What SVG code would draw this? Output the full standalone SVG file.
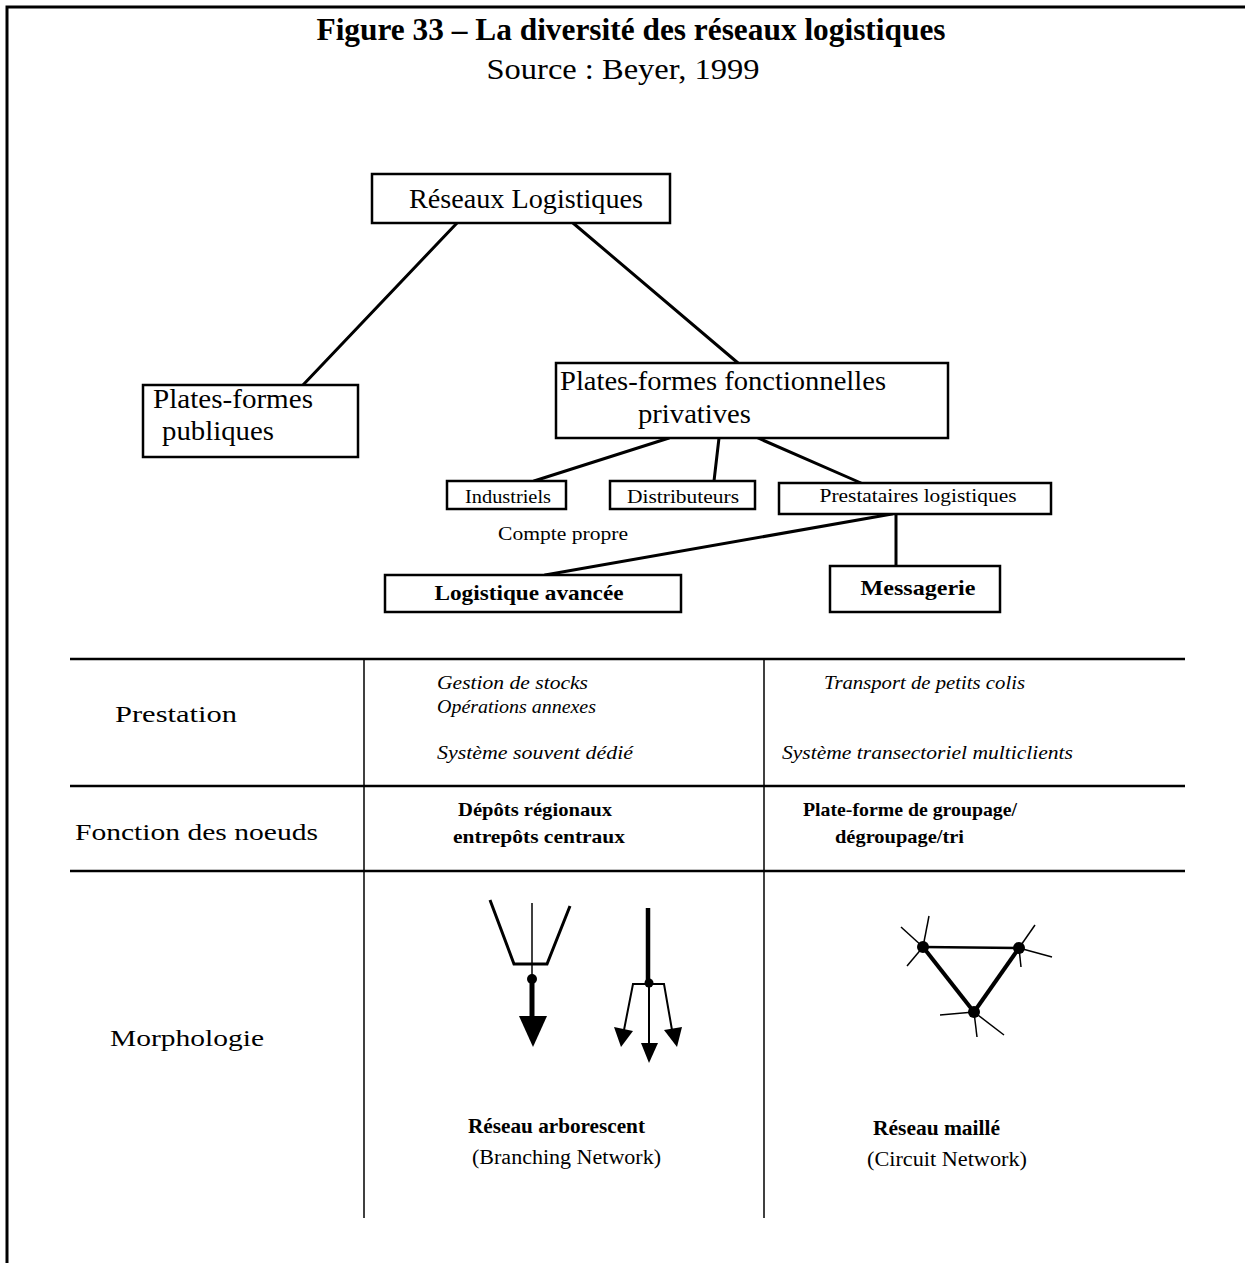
<svg xmlns="http://www.w3.org/2000/svg" width="1245" height="1263" viewBox="0 0 1245 1263">
<style>
.t{font-family:"Liberation Serif","Times New Roman",serif;fill:#000}
.box{fill:#fff;stroke:#000;stroke-width:2.5}
.con{stroke:#000;stroke-width:3;fill:none;stroke-linecap:round}
.grid{stroke:#000;stroke-width:2.5;fill:none}
.vgrid{stroke:#000;stroke-width:1.5;fill:none}
.it{font-style:italic;font-size:18px}
.bd{font-weight:bold;font-size:19px}
</style>
<rect width="1245" height="1263" fill="#fff"/>
<path d="M7,1263 V7 H1245" fill="none" stroke="#000" stroke-width="3"/>
<text class="t" x="631" y="40" text-anchor="middle" font-size="31" font-weight="bold" textLength="629" lengthAdjust="spacingAndGlyphs">Figure 33 – La diversité des réseaux logistiques</text>
<text class="t" x="623" y="79" text-anchor="middle" font-size="30" textLength="273" lengthAdjust="spacingAndGlyphs">Source : Beyer, 1999</text>

<g id="connectors">
<line class="con" x1="457" y1="223" x2="303" y2="385"/>
<line class="con" x1="573" y1="223" x2="738" y2="363"/>
<line class="con" x1="669" y1="438" x2="534" y2="481"/>
<line class="con" x1="719" y1="438" x2="714" y2="481"/>
<line class="con" x1="758" y1="438" x2="861" y2="483"/>
<line class="con" x1="892" y1="514" x2="545" y2="575"/>
<line class="con" x1="896" y1="514" x2="896" y2="566"/>
</g>

<g id="n-reseaux">
<rect class="box" x="372" y="174" width="298" height="49"/>
<text class="t" x="526" y="208" text-anchor="middle" font-size="27" textLength="234" lengthAdjust="spacingAndGlyphs">Réseaux Logistiques</text>
</g>
<g id="n-publiques">
<rect class="box" x="143" y="385" width="215" height="72"/>
<text class="t" x="153" y="408" font-size="27" textLength="160" lengthAdjust="spacingAndGlyphs">Plates-formes</text>
<text class="t" x="162" y="440" font-size="27" textLength="112" lengthAdjust="spacingAndGlyphs">publiques</text>
</g>
<g id="n-privatives">
<rect class="box" x="556" y="363" width="392" height="75"/>
<text class="t" x="560" y="390" font-size="27" textLength="326" lengthAdjust="spacingAndGlyphs">Plates-formes fonctionnelles</text>
<text class="t" x="638" y="423" font-size="27" textLength="113" lengthAdjust="spacingAndGlyphs">privatives</text>
</g>
<g id="n-industriels">
<rect class="box" x="447" y="481" width="119" height="28"/>
<text class="t" x="508" y="503" text-anchor="middle" font-size="18" textLength="86" lengthAdjust="spacingAndGlyphs">Industriels</text>
</g>
<g id="n-distributeurs">
<rect class="box" x="610" y="481" width="145" height="28"/>
<text class="t" x="683" y="503" text-anchor="middle" font-size="18" textLength="112" lengthAdjust="spacingAndGlyphs">Distributeurs</text>
</g>
<g id="n-prestataires">
<rect class="box" x="779" y="483" width="272" height="31"/>
<text class="t" x="918" y="502" text-anchor="middle" font-size="18" textLength="197" lengthAdjust="spacingAndGlyphs">Prestataires logistiques</text>
</g>
<text class="t" x="563" y="540" text-anchor="middle" font-size="18" textLength="130" lengthAdjust="spacingAndGlyphs">Compte propre</text>
<g id="n-logistique">
<rect class="box" x="385" y="575" width="296" height="37"/>
<text class="t" x="529" y="600" text-anchor="middle" font-size="21" font-weight="bold" textLength="189" lengthAdjust="spacingAndGlyphs">Logistique avancée</text>
</g>
<g id="n-messagerie">
<rect class="box" x="830" y="566" width="170" height="46"/>
<text class="t" x="918" y="595" text-anchor="middle" font-size="21" font-weight="bold" textLength="115" lengthAdjust="spacingAndGlyphs">Messagerie</text>
</g>

<g id="table">
<line class="grid" x1="70" y1="659" x2="1185" y2="659"/>
<line class="grid" x1="70" y1="786" x2="1185" y2="786"/>
<line class="grid" x1="70" y1="871" x2="1185" y2="871"/>
<line class="vgrid" x1="364" y1="659" x2="364" y2="1218"/>
<line class="vgrid" x1="764" y1="659" x2="764" y2="1218"/>
<text class="t" x="115" y="722" font-size="24" textLength="122" lengthAdjust="spacingAndGlyphs">Prestation</text>
<text class="t" x="75" y="840" font-size="24" textLength="243" lengthAdjust="spacingAndGlyphs">Fonction des noeuds</text>
<text class="t" x="110" y="1046" font-size="24" textLength="154" lengthAdjust="spacingAndGlyphs">Morphologie</text>
<text class="t it" x="437" y="689" textLength="151" lengthAdjust="spacingAndGlyphs">Gestion de stocks</text>
<text class="t it" x="437" y="713" textLength="159" lengthAdjust="spacingAndGlyphs">Opérations annexes</text>
<text class="t it" x="437" y="759" textLength="196" lengthAdjust="spacingAndGlyphs">Système souvent dédié</text>
<text class="t it" x="824" y="689" textLength="201" lengthAdjust="spacingAndGlyphs">Transport de petits colis</text>
<text class="t it" x="782" y="759" textLength="291" lengthAdjust="spacingAndGlyphs">Système transectoriel multiclients</text>
<text class="t bd" x="458" y="816" textLength="154" lengthAdjust="spacingAndGlyphs">Dépôts régionaux</text>
<text class="t bd" x="453" y="843" textLength="172" lengthAdjust="spacingAndGlyphs">entrepôts centraux</text>
<text class="t bd" x="803" y="816" textLength="214" lengthAdjust="spacingAndGlyphs">Plate-forme de groupage/</text>
<text class="t bd" x="835" y="843" textLength="129" lengthAdjust="spacingAndGlyphs">dégroupage/tri</text>
<text class="t" x="468" y="1133" font-size="20" font-weight="bold" textLength="177" lengthAdjust="spacingAndGlyphs">Réseau arborescent</text>
<text class="t" x="472" y="1164" font-size="20" textLength="189" lengthAdjust="spacingAndGlyphs">(Branching Network)</text>
<text class="t" x="873" y="1135" font-size="20" font-weight="bold" textLength="127" lengthAdjust="spacingAndGlyphs">Réseau maillé</text>
<text class="t" x="867" y="1166" font-size="20" textLength="160" lengthAdjust="spacingAndGlyphs">(Circuit Network)</text>
</g>

<g id="branching" stroke="#000" fill="#000">
<polyline points="490,900 514,964 547,964 570,906" fill="none" stroke-width="3"/>
<line x1="532" y1="903" x2="532" y2="979" stroke-width="1.5"/>
<circle cx="532" cy="979" r="5" stroke="none"/>
<line x1="532" y1="979" x2="532" y2="1018" stroke-width="5"/>
<polygon points="519,1016 547,1016 533,1047" stroke="none"/>
<line x1="648" y1="908" x2="648" y2="984" stroke-width="4.5"/>
<circle cx="649" cy="983" r="4.5" stroke="none"/>
<polyline points="624,1030 633,984 664,984 672,1030" fill="none" stroke-width="2"/>
<line x1="649" y1="984" x2="649" y2="1045" stroke-width="2"/>
<polygon points="614,1027 633,1031 621,1047" stroke="none"/>
<polygon points="641,1043 658,1043 649,1063" stroke="none"/>
<polygon points="664,1030 682,1027 677,1047" stroke="none"/>
</g>

<g id="circuit" stroke="#000" fill="#000">
<line x1="923" y1="947" x2="1019" y2="948" stroke-width="2.5"/>
<line x1="923" y1="947" x2="974" y2="1012" stroke-width="4"/>
<line x1="1019" y1="948" x2="974" y2="1012" stroke-width="4"/>
<g stroke-width="1.5">
<line x1="923" y1="947" x2="901" y2="927"/>
<line x1="923" y1="947" x2="929" y2="916"/>
<line x1="923" y1="947" x2="907" y2="966"/>
<line x1="1019" y1="948" x2="1035" y2="925"/>
<line x1="1019" y1="948" x2="1052" y2="957"/>
<line x1="1019" y1="948" x2="1021" y2="967"/>
<line x1="974" y1="1012" x2="940" y2="1015"/>
<line x1="974" y1="1012" x2="977" y2="1037"/>
<line x1="974" y1="1012" x2="1004" y2="1035"/>
</g>
<circle cx="923" cy="947" r="6" stroke="none"/>
<circle cx="1019" cy="948" r="6" stroke="none"/>
<circle cx="974" cy="1012" r="6" stroke="none"/>
</g>
</svg>
